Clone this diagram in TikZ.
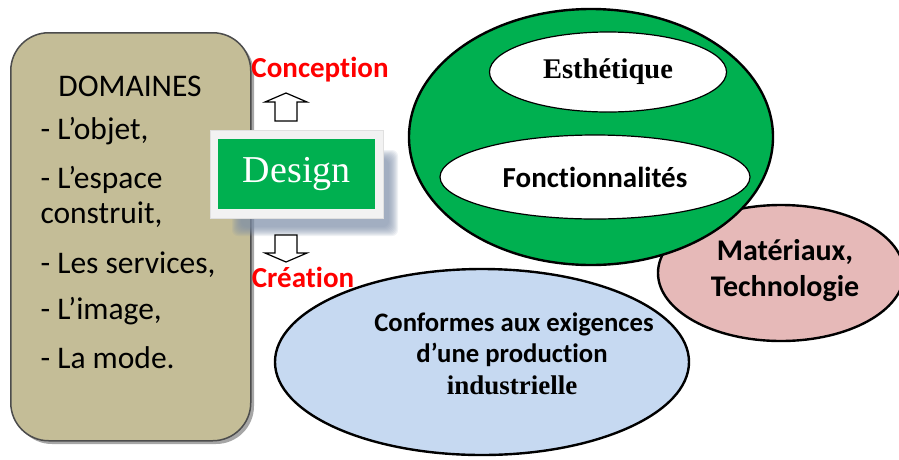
\documentclass[tikz,border=0pt]{standalone}
\usepackage{fontspec}
\setmainfont{Carlito}[Ligatures=NoCommon]
\newfontfamily\serifface{Liberation Serif}
\usetikzlibrary{shapes.geometric}
\definecolor{tan}{HTML}{C4BD97}
\definecolor{dgreen}{HTML}{00B050}
\definecolor{pinkf}{HTML}{E6B9B8}
\definecolor{bluef}{HTML}{C6D9F1}
\definecolor{shadowc}{HTML}{7F8FA9}
\begin{document}
\begin{tikzpicture}[x=1pt,y=-1pt,
  lbl/.style={font=\fontsize{31.5}{36}\selectfont},
  redlbl/.style={text=red,font=\bfseries\fontsize{29}{34}\selectfont},
  ell/.style={draw=black,line width=2.4pt,ellipse,inner sep=0pt},
  inell/.style={draw=black,line width=1.2pt,ellipse,fill=white,inner sep=0pt},
  blockarrow/.style={draw=black,line width=1.2pt,fill=white}]
\useasboundingbox (0,0) rectangle (899,459);
% left box
\fill[black!35,rounded corners=38pt] (14,36) rectangle (254,444);
\node[draw=black!70,line width=1.5pt,fill=tan,rounded corners=38pt,minimum width=240pt,minimum height=408pt,anchor=north west] (dom) at (10,32) {};
\node[lbl] (domt) at (130,86) {DOMAINES};
\node[lbl,anchor=west] (d1) at (37,131) {- L’objet,};
\node[lbl,anchor=west] (d2) at (37,180) {- L’espace};
\node[lbl,anchor=west] (d3) at (37,215) {construit,};
\node[lbl,anchor=west] (d4) at (37,265) {- Les services,};
\node[lbl,anchor=west] (d5) at (37,311) {- L’image,};
\node[lbl,anchor=west] (d6) at (37,358) {- La mode.};
% Design shadow
\foreach \i in {0,...,9}{
  \fill[shadowc,opacity=0.12,rounded corners=6pt] (232+\i,150+\i) rectangle (398-\i,236-\i);
}
\node[fill=black!5,draw=black!12,line width=0.6pt,minimum width=173pt,minimum height=88pt,anchor=north west] (dframe) at (210,130) {};
\node[fill=dgreen,minimum width=157pt,minimum height=70pt,text=white,font=\serifface\fontsize{38}{40}\selectfont] (design) at (dframe.center) {Design};
% arrows
\coordinate (ua) at (286,93);
\draw[blockarrow] (ua) -- ++(21,9) -- ++(-10,0) -- ++(0,19) -- ++(-22,0) -- ++(0,-19) -- ++(-10,0) -- cycle;
\coordinate (da) at (286,262);
\draw[blockarrow] (da) -- ++(21,-9) -- ++(-10,0) -- ++(0,-18) -- ++(-22,0) -- ++(0,18) -- ++(-10,0) -- cycle;
\node[redlbl] (conc) at (320,70) {Conception};
\node[redlbl] (crea) at (303,277) {Création};
% pink ellipse
\node[ell,fill=pinkf,minimum width=246pt,minimum height=136pt] (mat) at (781,273) {};
\node[font=\bfseries\fontsize{30}{36}\selectfont,align=center] (matt) at (785,271) {Matériaux,\\Technologie};
% green ellipse
\node[ell,fill=dgreen,minimum width=364pt,minimum height=256pt] (green) at (591,137) {};
\node[inell,minimum width=237pt,minimum height=80pt,font=\serifface\bfseries\fontsize{28.5}{32}\selectfont] (esth) at (608,72) {Esthétique};
\node[inell,minimum width=310pt,minimum height=84pt,font=\bfseries\fontsize{29}{32}\selectfont] (fonc) at (595,177) {Fonctionnalités};
% blue ellipse
\node[ell,fill=bluef,minimum width=414pt,minimum height=186pt] (blue) at (482,362) {};
\node[font=\bfseries\fontsize{26.7}{30}\selectfont] (b1) at (514,324) {Conformes aux exigences};
\node[font=\bfseries\fontsize{26.7}{30}\selectfont] (b2) at (512,355) {d’une production};
\node[font=\serifface\bfseries\fontsize{27}{30}\selectfont] (b3) at (512,385) {industrielle};
\end{tikzpicture}
\end{document}
